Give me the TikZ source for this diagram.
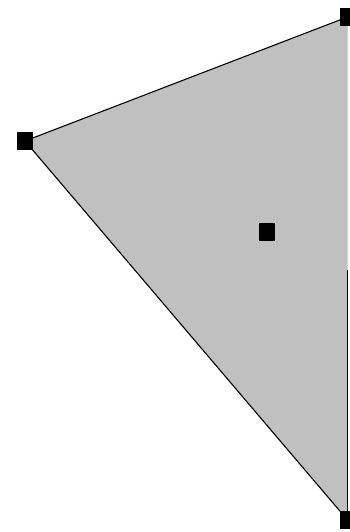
\documentclass[tikz,border=0pt]{standalone}
\definecolor{fillgray}{RGB}{192,192,192}
\tikzset{
  handle/.style={fill=black, draw=none, minimum width=16pt, minimum height=18pt, inner sep=0pt, outer sep=0pt},
  edge/.style={draw=black, line width=1.1pt}
}
\begin{document}
\begin{tikzpicture}[x=1pt,y=-1pt]
\useasboundingbox (0,0) rectangle (349,532);
\fill[white] (0,0) rectangle (349,532);
\coordinate (A) at (25,141);
\coordinate (B) at (347.5,17);
\coordinate (C) at (347.5,520);
\fill[fillgray] (A) -- (B) -- (C) -- cycle;
\draw[edge] (A) -- (B);
\draw[edge] (A) -- (C);
\draw[edge] (347.5,270) -- (C);
\node[handle] (hA) at (A) {};
\node[handle] (hB) at (B) {};
\node[handle] (hC) at (C) {};
\node[handle] (hM) at (267,232) {};
\end{tikzpicture}
\end{document}
